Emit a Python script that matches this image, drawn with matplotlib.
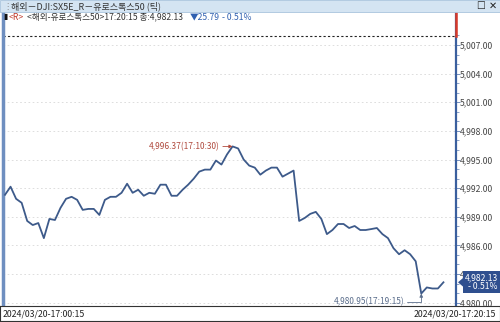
import matplotlib
matplotlib.use('Agg')
import matplotlib.pyplot as plt
from matplotlib.patches import Rectangle, Polygon
import numpy as np

plt.rcParams['font.family'] = ['Noto Sans CJK KR', 'DejaVu Sans']

# 15-second ticks, 17:00:15 onward
prices = [4991.30, 4992.15, 4990.88, 4990.46, 4988.56, 4988.13, 4988.34, 4986.76,
          4988.77, 4988.66, 4989.93, 4990.88, 4991.09, 4990.77, 4989.72, 4989.82,
          4989.82, 4989.19, 4990.77, 4991.09, 4991.09, 4991.51, 4992.46, 4991.51,
          4991.83, 4991.20, 4991.51, 4991.41, 4992.36, 4992.36, 4991.20, 4991.20,
          4991.83, 4992.36, 4992.99, 4993.73, 4993.94, 4993.94, 4994.89, 4994.47,
          4995.53, 4996.37, 4996.16, 4995.00, 4994.36, 4994.15, 4993.41, 4993.84,
          4994.15, 4994.15, 4993.20, 4993.52, 4993.84, 4988.56, 4988.87, 4989.30,
          4989.51, 4988.77, 4987.18, 4987.61, 4988.24, 4988.24, 4987.82, 4988.03,
          4987.61, 4987.61, 4987.71, 4987.82, 4987.18, 4986.76, 4985.70, 4985.07,
          4985.49, 4985.07, 4984.33, 4980.95, 4981.59, 4981.48, 4981.48, 4982.13]
y_ticks = [5007, 5004, 5001, 4998, 4995, 4992, 4989, 4986, 4983, 4980]
prev_close = 5007.92
last_price = 4982.13
high_label = '4,996.37(17:10:30)'
low_label = '4,980.95(17:19:15)'
start_label = '2024/03/20-17:00:15'
end_label = '2024/03/20-17:20:15'

W, H = 500, 322
YLIM = (4979.75, 5010.46)
fig = plt.figure(figsize=(W / 100, H / 100), dpi=100)

def box(x0, y0, x1, y1):
    # pixel box (top-left origin) -> figure fraction
    return [x0 / W, 1 - y1 / H, (x1 - x0) / W, (y1 - y0) / H]

# header bar
fig.patches.append(Rectangle((0, 1 - 12 / H), 1, 12 / H, transform=fig.transFigure,
                             facecolor='#d4e4f2', edgecolor='#a9c4dd', lw=0.6))
fig.text(11 / W, 1 - 6 / H, '해외－DJI:SX5E_R－유로스톡스50 (틱)', fontsize=6.5,
         color='#333333', va='center')
fig.text(3 / W, 1 - 6 / H, '⋮', fontsize=6, color='#888888', va='center')
fig.text(476 / W, 1 - 6 / H, '☐', fontsize=7, color='#222222', va='center')
fig.text(489 / W, 1 - 6 / H, '✕', fontsize=7, color='#222222', va='center', weight='bold')

# main plot
ax = fig.add_axes(box(3, 12, 456, 305))
x = np.arange(len(prices))
ax.set_xlim(-0.36, 81.26)
ax.set_ylim(*YLIM)
for v in y_ticks:
    ax.axhline(v, color='#d8d8d8', lw=0.6, ls=(0, (2, 3)), zorder=0)
ax.axhline(prev_close, color='#222222', lw=0.8, ls=(0, (2, 2)), zorder=1)
ax.plot(x, prices, color='#3d5a8a', lw=1.3, zorder=3)

imax = int(np.argmax(prices))
imin = int(np.argmin(prices))
ax.annotate(high_label, xy=(x[imax], prices[imax]), xytext=(-9, 0),
            textcoords='offset points', ha='right', va='center', fontsize=6,
            color='#b04a3e',
            arrowprops=dict(arrowstyle='-|>', color='#b04a3e', lw=0.6,
                            mutation_scale=5, shrinkA=0, shrinkB=0))
ax.annotate(low_label, xy=(x[imin], prices[imin]), xytext=(-12, -6),
            textcoords='offset points', ha='right', va='center', fontsize=6,
            color='#5b6e8c',
            arrowprops=dict(arrowstyle='-|>', color='#5b6e8c', lw=0.6,
                            mutation_scale=5, shrinkA=0, shrinkB=0,
                            connectionstyle='angle,angleA=0,angleB=90,rad=0'))

ax.set_xticks([])
ax.set_yticks([])
for s in ['top', 'right', 'bottom']:
    ax.spines[s].set_visible(False)
ax.spines['left'].set_color('#6f8fc0')
ax.spines['left'].set_linewidth(2.5)

# second header line inside the chart
ty = 1 - 17 / H
fig.text(3 / W, ty, '▮', fontsize=5.5, color='#111111', va='center')
fig.text(9 / W, ty, '<R>', fontsize=6.2, color='#c0392b', va='center')
fig.text(27 / W, ty, '<해외-유로스톡스50>17:20:15 종:4,982.13', fontsize=6.2,
         color='#333333', va='center')
fig.text(190 / W, ty, '▼25.79', fontsize=6.2, color='#3060b0', va='center')
fig.text(222 / W, ty, '- 0.51%', fontsize=6.2, color='#3060b0', va='center')

# right value axis
rax = fig.add_axes(box(456, 12, 500, 305))
rax.set_xlim(0, 1)
rax.set_ylim(*YLIM)
rax.set_xticks([])
rax.set_yticks(y_ticks)
rax.set_yticklabels([f'{v:,.2f}' for v in y_ticks])
rax.set_yticks(np.arange(4980, 5009), minor=True)
rax.tick_params(axis='y', which='both', direction='in', left=True, labelleft=True,
                right=False, labelright=False, pad=-3, labelsize=6.2,
                labelcolor='#444444', color='#5f7fb3')
rax.tick_params(axis='y', which='major', length=3, width=0.6)
rax.tick_params(axis='y', which='minor', length=2, width=0.5)
for lab in rax.get_yticklabels():
    lab.set_horizontalalignment('left')
for s in ['top', 'right', 'bottom']:
    rax.spines[s].set_visible(False)
rax.spines['left'].set_color('#3a5f9e')
rax.spines['left'].set_linewidth(1.6)
# red segment of the axis above previous close
rax.plot([0, 0], [prev_close, YLIM[1]], color='#d83a2a', lw=1.8, clip_on=False, zorder=5)

# last price box, drawn on top of the tick labels
pax = fig.add_axes(box(450, 12, 500, 305), zorder=10)
pax.set_xlim(-6, 44)
pax.set_ylim(*YLIM)
pax.axis('off')
pax.add_patch(Rectangle((7, last_price - 1.15), 37, 2.3, facecolor='#2f4f8f',
                        edgecolor='none'))
pax.add_patch(Polygon([[7, last_price + 0.45], [2, last_price],
                       [7, last_price - 0.45]], closed=True, facecolor='#2f4f8f',
                      edgecolor='none'))
pax.text(42, last_price, f'{last_price:,.2f}\n- 0.51%', ha='right', va='center',
         fontsize=6.2, color='white', linespacing=0.95)

# bottom time bar
bax = fig.add_axes(box(0, 306, 500, 321))
bax.set_xticks([])
bax.set_yticks([])
for s in bax.spines.values():
    s.set_color('#333333')
    s.set_linewidth(0.8)
bax.text(0.006, 0.45, start_label, transform=bax.transAxes, ha='left', va='center',
         fontsize=6.3, color='#222222')
bax.text(0.992, 0.45, end_label, transform=bax.transAxes, ha='right', va='center',
         fontsize=6.3, color='#222222')

fig.savefig('out.png', dpi=100)
